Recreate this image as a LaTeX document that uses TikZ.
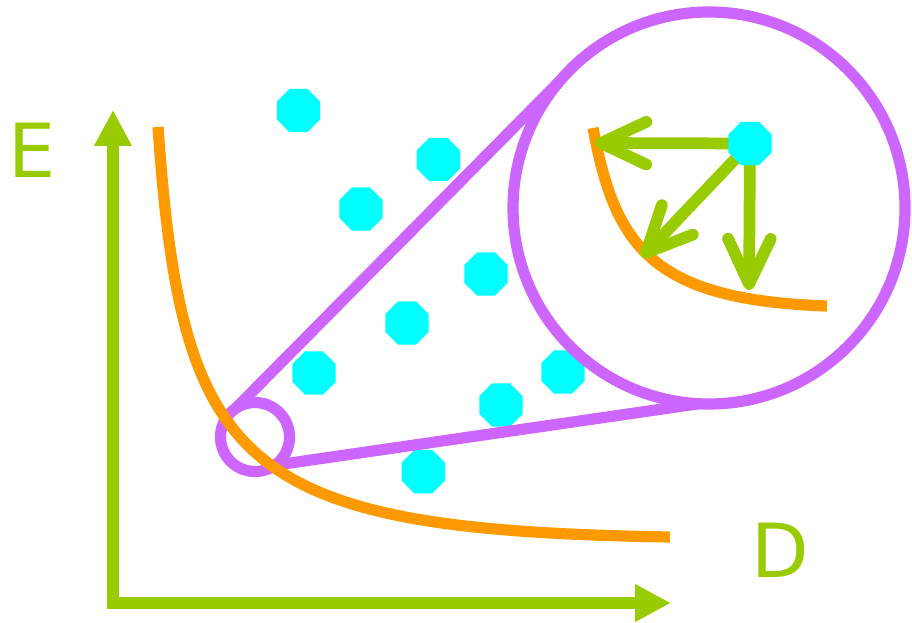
\documentclass[tikz,border=0pt]{standalone}
\usepackage{fontspec}
\setmainfont{DejaVu Sans}
\usetikzlibrary{arrows.meta,shapes.geometric}
\definecolor{cgreen}{HTML}{99CC00}
\definecolor{corange}{HTML}{FF9900}
\definecolor{cpurple}{HTML}{CC66FF}
\definecolor{ccyan}{HTML}{00FFFF}
\begin{document}
\begin{tikzpicture}[x=0.75pt,y=-0.75pt,
  oct/.style={regular polygon, regular polygon sides=8, fill=ccyan, draw=none, inner sep=0pt, outer sep=0pt, minimum size=35.25pt},
  ring/.style={circle, draw=cpurple, line width=8.4pt, inner sep=0pt, outer sep=0pt},
  pline/.style={draw=cpurple, line width=8.4pt},
  curve/.style={draw=corange, line width=8.4pt},
  axis/.style={draw=cgreen, line width=8.4pt, {Triangle[length=27pt,width=26.5pt]}-{Triangle[length=27pt,width=26.5pt]}},
  inarrow/.style={draw=cgreen, line width=8.8pt, -{Straight Barb[length=34pt,width=32pt,round]}},
  lbl/.style={text=cgreen, font=\fontsize{56}{60}\selectfont, inner sep=0pt}
]
\useasboundingbox (0,0) rectangle (912,623);

% octagons in the plot
\node[oct] (o1) at (298.5,110.5) {};
\node[oct] (o2) at (438.3,159.5) {};
\node[oct] (o3) at (361,209) {};
\node[oct] (o4) at (486,274) {};
\node[oct] (o5) at (407,323) {};
\node[oct] (o6) at (314,373) {};
\node[oct] (o7) at (563,372) {};
\node[oct] (o8) at (501,405) {};
\node[oct] (o9) at (423.3,471.7) {};

% magnifier
\node[ring, minimum size=51.75pt] (sc) at (255,437) {};
\node[ring, minimum size=294pt] (bc) at (709,208) {};
\draw[pline] (sc.124) -- (bc.140);
\draw[pline] (sc.-55) -- (bc.-93);

% axes
\coordinate (ytip) at (113,110);
\coordinate (orig) at (113,603);
\coordinate (xtip) at (671,603);
\draw[axis] (ytip) -- (orig) -- (xtip);
\node[lbl] (E) at (32,150) {E};
\node[lbl] (D) at (780,550) {D};

% front curve
\coordinate (c1s) at (158,127);
\coordinate (c1e) at (670,537);
\draw[curve] (c1s) .. controls (182,470) and (240,530) .. (c1e);

% inset curve
\coordinate (c2s) at (593,128);
\coordinate (c2e) at (827,306);
\draw[curve] (c2s) .. controls (615,245) and (650,300) .. (c2e);

% inset arrows
\coordinate (oc) at (750,143.5);
\coordinate (tl) at (595,143);
\coordinate (td) at (642,257);
\coordinate (tb) at (749,290);
\draw[inarrow] (oc) -- (tl);
\draw[inarrow] (oc) -- (td);
\draw[inarrow] (oc) -- (tb);
\node[oct] (o10) at (oc) {};
\end{tikzpicture}
\end{document}
